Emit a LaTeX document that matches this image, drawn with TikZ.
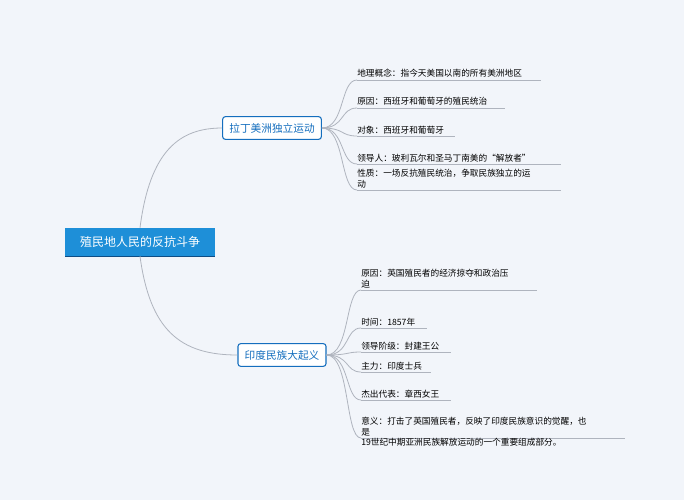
\documentclass[tikz,border=0pt]{standalone}
\usepackage{fontspec}
\setmainfont{Noto Sans CJK SC}
\usetikzlibrary{positioning}
\definecolor{bgcolor}{RGB}{242,245,250}
\definecolor{rootblue}{RGB}{30,143,216}
\definecolor{topicblue}{RGB}{20,110,190}
\definecolor{linegray}{RGB}{175,180,190}

\begin{document}
\begin{tikzpicture}[x=0.75pt, y=-0.75pt,
    root/.style={fill=rootblue, text=white, minimum width=112pt, minimum height=21pt, font=\fontsize{9}{11}\selectfont},
    topic/.style={draw=topicblue, fill=white, rounded corners=2pt, thick, text=topicblue, minimum height=17pt, inner xsep=5pt, font=\fontsize{8}{10}\selectfont},
    leaf/.style={anchor=south west, align=left, inner xsep=0pt, inner ysep=1.5pt, font=\fontsize{6.5}{8}\selectfont},
    branch/.style={draw=linegray, line width=0.6pt},
]
    \fill[bgcolor] (0,0) rectangle (684,500);
    \useasboundingbox (0,0) rectangle (684,500);

    % Root
    \node[root] (root) at (140,242) {殖民地人民的反抗斗争};
    \draw[topicblue!70!black, line width=0.8pt] (root.south west) -- (root.south east);

    % Topics
    \node[topic] (t1) at (272,128) {拉丁美洲独立运动};
    \node[topic] (t2) at (282,355) {印度民族大起义};
    \draw[branch] (root.north) .. controls (150,150) and (180,128) .. (t1.west);
    \draw[branch] (root.south) .. controls (150,330) and (180,355) .. (t2.west);

    % Leaves of the first topic
    \foreach \n/\y/\w/\t in {a1/80/184/{地理概念：指今天美国以南的所有美洲地区},
        a2/108/148/{原因：西班牙和葡萄牙的殖民统治},
        a3/136/98/{对象：西班牙和葡萄牙},
        a4/164/204/{领导人：玻利瓦尔和圣马丁南美的“解放者”},
        a5/190/204/{性质：一场反抗殖民统治，争取民族独立的运\\动}} {
        \node[leaf] (\n) at (357,\y) {\t};
        \draw[branch] (\n.south west) -- ++(\w,0);
        \draw[branch] (t1.east) .. controls (345,128) and (340,\y) .. (\n.south west);
    }

    % Leaves of the second topic
    \foreach \n/\y/\w/\t in {b1/290/176/{原因：英国殖民者的经济掠夺和政治压\\迫},
        b2/328/66/{时间：1857年},
        b3/352/90/{领导阶级：封建王公},
        b4/372/70/{主力：印度士兵},
        b5/400/90/{杰出代表：章西女王},
        b6/438/264/{意义：打击了英国殖民者，反映了印度民族意识的觉醒，也\\是}} {
        \node[leaf] (\n) at (361,\y) {\t};
        \draw[branch] (\n.south west) -- ++(\w,0);
        \draw[branch] (t2.east) .. controls (350,355) and (345,\y) .. (\n.south west);
    }
    \node[leaf, anchor=north west, inner ysep=0pt] (b6x) at (b6.south west) {19世纪中期亚洲民族解放运动的一个重要组成部分。};
\end{tikzpicture}
\end{document}
